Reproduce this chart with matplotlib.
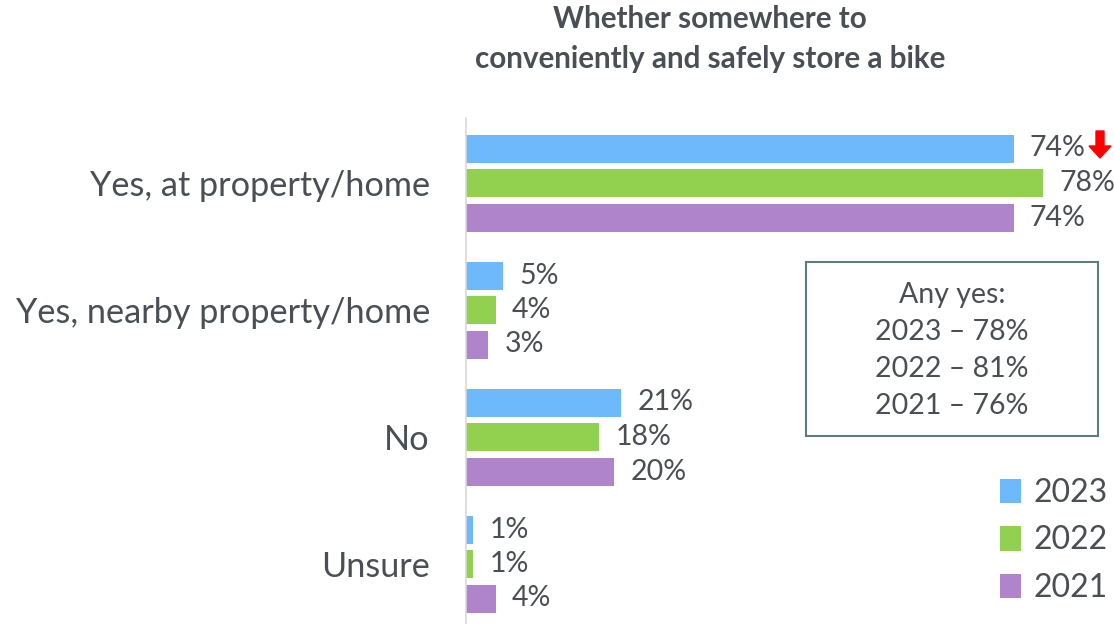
import matplotlib
matplotlib.use("Agg")
import matplotlib.pyplot as plt
from matplotlib.patches import FancyArrow
import numpy as np

categories = ["Yes, at property/home", "Yes, nearby property/home", "No", "Unsure"]
years = ["2023", "2022", "2021"]
values_2023 = [74, 5, 21, 1]
values_2022 = [78, 4, 18, 1]
values_2021 = [74, 3, 20, 4]
colors = ["#6DB9FB", "#92D050", "#B084CA"]
title = "Whether somewhere to\nconveniently and safely store a bike"
any_yes_lines = ["Any yes:", "2023 \u2013 78%", "2022 \u2013 81%", "2021 \u2013 76%"]

TEXT = "#4A4F55"
FONT = ["Lato", "DejaVu Sans"]
plt.rcParams["font.family"] = FONT

W, H = 1114, 624
fig = plt.figure(figsize=(W / 100, H / 100), dpi=100)

ax_left, ax_top, ax_bottom = 466, 118, 624
ax = fig.add_axes([ax_left / W, 0, (W - ax_left) / W, (H - ax_top) / H])

group_gap = 127.0
offset = 34.5 / group_gap
bar_h = 28 / group_gap
px_per_pct = 7.4

series = [values_2023, values_2022, values_2021]
centers = np.arange(len(categories))
for i, (vals, col, yr) in enumerate(zip(series, colors, years)):
    ys = centers + (i - 1) * offset
    ax.barh(ys, vals, height=bar_h, color=col, label=yr)
    for y, v in zip(ys, vals):
        ax.text(v + 2.2, y, f"{v}%", va="center", ha="left", fontsize=20.5, color=TEXT)

ax.set_xlim(0, (W - ax_left) / px_per_pct)
top = -(183 - ax_top) / group_gap
bottom = (len(categories) - 1) + (ax_bottom - 564) / group_gap
ax.set_ylim(bottom, top)

for s in ["top", "right", "bottom"]:
    ax.spines[s].set_visible(False)
ax.spines["left"].set_color("#D9D9D9")
ax.spines["left"].set_linewidth(1.2)
ax.set_xticks([])
ax.set_yticks(centers)
ax.set_yticklabels(categories, fontsize=24.7, color=TEXT)
ax.tick_params(axis="y", length=0, pad=26)

# title
fig.text(710 / W, 1 - 39 / H, title, ha="center", va="center", fontsize=21.3,
         fontweight="bold", color=TEXT, linespacing=1.5)

# down arrow marking the 2023 change
fig.patches.append(FancyArrow(1100 / W, 1 - 131 / H, 0, -27 / H, width=8 / W,
                              head_width=22 / W, head_length=12 / H,
                              length_includes_head=True, color="#FF0000",
                              transform=fig.transFigure, figure=fig))

# summary box
bx0, by0, bx1, by1 = 806, 262, 1098, 436
fig.patches.append(plt.Rectangle((bx0 / W, 1 - by1 / H), (bx1 - bx0) / W, (by1 - by0) / H,
                                 transform=fig.transFigure, fill=False,
                                 edgecolor="#5E7B7D", linewidth=1.5, figure=fig))
for k, line in enumerate(any_yes_lines):
    fig.text(952 / W, 1 - (295 + k * 37) / H, line, ha="center", va="center",
             fontsize=20.5, color=TEXT)

# legend
leg = fig.legend(loc="lower right", bbox_to_anchor=(1108 / W, 1 - 603 / H),
                 bbox_transform=fig.transFigure, frameon=False,
                 fontsize=23, handlelength=0.65, handleheight=0.8, handletextpad=0.4,
                 labelspacing=0.55, borderpad=0, borderaxespad=0, labelcolor=TEXT)

fig.savefig("out.png", dpi=100)
